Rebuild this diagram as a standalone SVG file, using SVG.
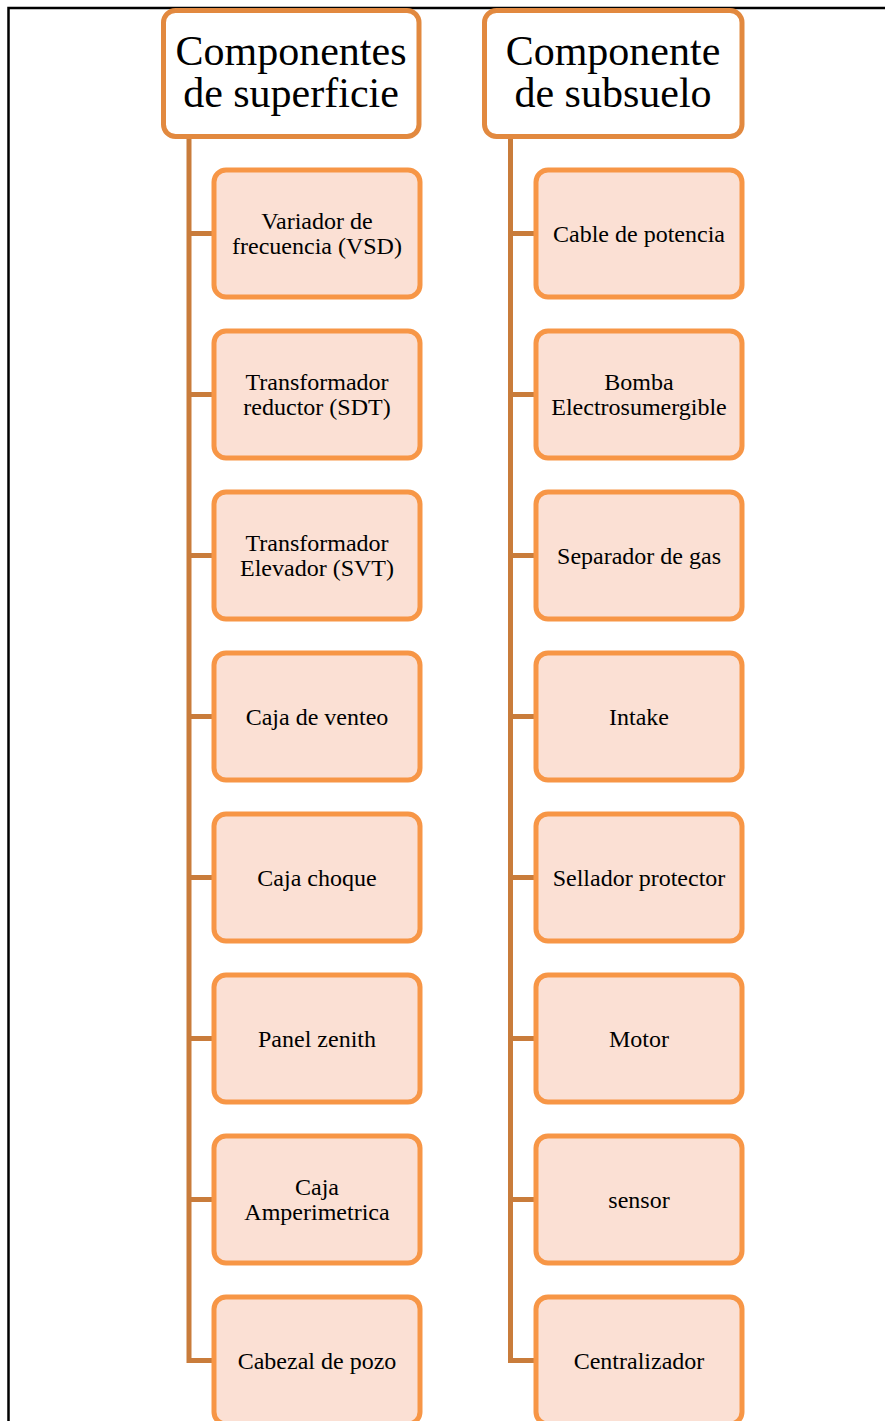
<svg xmlns="http://www.w3.org/2000/svg" width="885" height="1421" viewBox="0 0 885 1421">
  <style>
    .frame { fill: none; stroke: #000; stroke-width: 2.5; }
    .head rect { fill: #ffffff; stroke: #E2893F; stroke-width: 5; }
    .head text { font-family: "Liberation Serif", "Times New Roman", serif; font-size: 42px; fill: #000; text-anchor: middle; }
    .item rect { fill: #FBE0D4; stroke: #F79646; stroke-width: 5; }
    .item text { font-family: "Liberation Serif", "Times New Roman", serif; font-size: 24px; fill: #000; text-anchor: middle; }
    .link { fill: none; stroke: #C97C3B; stroke-width: 5; }
  </style>

  <!-- page frame (top and left edges) -->
  <path class="frame" d="M885 8 H8.5 V1421"/>

  <!-- connectors -->
  <g id="connectors">
    <path class="link" d="M189 137 V1360.5 H214"/>
    <path class="link" d="M189 233.5 H214 M189 394.5 H214 M189 555.5 H214 M189 716.5 H214 M189 877.5 H214 M189 1038.5 H214 M189 1199.5 H214"/>
    <path class="link" d="M510.5 137 V1360.5 H536"/>
    <path class="link" d="M510.5 233.5 H536 M510.5 394.5 H536 M510.5 555.5 H536 M510.5 716.5 H536 M510.5 877.5 H536 M510.5 1038.5 H536 M510.5 1199.5 H536"/>
  </g>

  <!-- column headers -->
  <g id="head-superficie" class="head">
    <rect x="163.5" y="10.5" width="255.5" height="126" rx="12"/>
    <text x="291" y="65">Componentes</text>
    <text x="291" y="107">de superficie</text>
  </g>
  <g id="head-subsuelo" class="head">
    <rect x="484.5" y="10.5" width="257.5" height="126" rx="12"/>
    <text x="613" y="65">Componente</text>
    <text x="613" y="107">de subsuelo</text>
  </g>

  <!-- surface components -->
  <g id="vsd" class="item">
    <rect x="214" y="170" width="206" height="127" rx="12"/>
    <text x="317" y="228.5">Variador de</text>
    <text x="317" y="253.5">frecuencia (VSD)</text>
  </g>
  <g id="sdt" class="item">
    <rect x="214" y="331" width="206" height="127" rx="12"/>
    <text x="317" y="389.5">Transformador</text>
    <text x="317" y="414.5">reductor (SDT)</text>
  </g>
  <g id="svt" class="item">
    <rect x="214" y="492" width="206" height="127" rx="12"/>
    <text x="317" y="550.5">Transformador</text>
    <text x="317" y="575.5">Elevador (SVT)</text>
  </g>
  <g id="caja-venteo" class="item">
    <rect x="214" y="653" width="206" height="127" rx="12"/>
    <text x="317" y="724.5">Caja de venteo</text>
  </g>
  <g id="caja-choque" class="item">
    <rect x="214" y="814" width="206" height="127" rx="12"/>
    <text x="317" y="885.5">Caja choque</text>
  </g>
  <g id="panel-zenith" class="item">
    <rect x="214" y="975" width="206" height="127" rx="12"/>
    <text x="317" y="1046.5">Panel zenith</text>
  </g>
  <g id="caja-amperimetrica" class="item">
    <rect x="214" y="1136" width="206" height="127" rx="12"/>
    <text x="317" y="1194.5">Caja</text>
    <text x="317" y="1219.5">Amperimetrica</text>
  </g>
  <g id="cabezal-pozo" class="item">
    <rect x="214" y="1297" width="206" height="127" rx="12"/>
    <text x="317" y="1368.5">Cabezal de pozo</text>
  </g>

  <!-- downhole components -->
  <g id="cable-potencia" class="item">
    <rect x="536" y="170" width="206" height="127" rx="12"/>
    <text x="639" y="241.5">Cable de potencia</text>
  </g>
  <g id="bomba" class="item">
    <rect x="536" y="331" width="206" height="127" rx="12"/>
    <text x="639" y="389.5">Bomba</text>
    <text x="639" y="414.5">Electrosumergible</text>
  </g>
  <g id="separador-gas" class="item">
    <rect x="536" y="492" width="206" height="127" rx="12"/>
    <text x="639" y="563.5">Separador de gas</text>
  </g>
  <g id="intake" class="item">
    <rect x="536" y="653" width="206" height="127" rx="12"/>
    <text x="639" y="724.5">Intake</text>
  </g>
  <g id="sellador" class="item">
    <rect x="536" y="814" width="206" height="127" rx="12"/>
    <text x="639" y="885.5">Sellador protector</text>
  </g>
  <g id="motor" class="item">
    <rect x="536" y="975" width="206" height="127" rx="12"/>
    <text x="639" y="1046.5">Motor</text>
  </g>
  <g id="sensor" class="item">
    <rect x="536" y="1136" width="206" height="127" rx="12"/>
    <text x="639" y="1207.5">sensor</text>
  </g>
  <g id="centralizador" class="item">
    <rect x="536" y="1297" width="206" height="127" rx="12"/>
    <text x="639" y="1368.5">Centralizador</text>
  </g>
</svg>
